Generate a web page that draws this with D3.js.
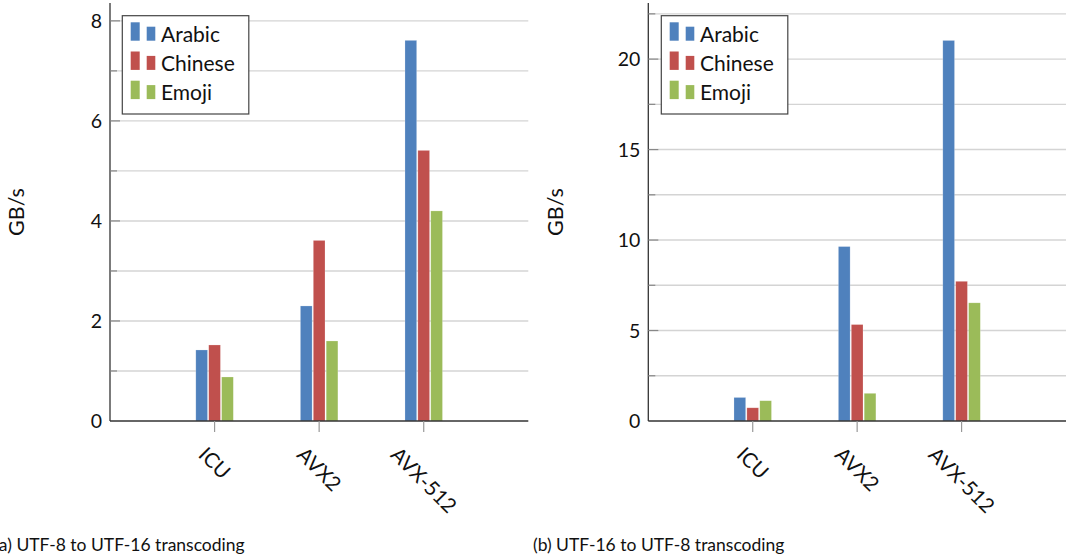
<!DOCTYPE html>
<html>
<head>
<meta charset="utf-8">
<script src="https://cdn.jsdelivr.net/npm/d3@7"></script>
<style>
  body { margin: 0; background: #fff; }
  text { font-family: Lato, "Open Sans", sans-serif; fill: #111; }
</style>
</head>
<body>
<div id="chart"></div>
<script>
// datos
const categories = ["ICU", "AVX2", "AVX-512"];
const seriesNames = ["Arabic", "Chinese", "Emoji"];
const colors = ["#4f81bd", "#c0504d", "#9bbb59"];

const utf8to16 = {
  Arabic: [1.42, 2.3, 7.61],
  Chinese: [1.52, 3.61, 5.41],
  Emoji: [0.88, 1.6, 4.2]
};
const utf16to8 = {
  Arabic: [1.3, 9.64, 21.03],
  Chinese: [0.73, 5.33, 7.72],
  Emoji: [1.12, 1.53, 6.53]
};

const ticksLeft = [0, 2, 4, 6, 8];
const minorLeft = [1, 3, 5, 7];
const ticksRight = [0, 5, 10, 15, 20];
const minorRight = [2.5, 7.5, 12.5, 17.5, 22.5];

const svg = d3.select("#chart").append("svg")
  .attr("width", 1070)
  .attr("height", 556);

const drawPanel = (cfg) => {
  const g = svg.append("g");

  const x = d3.scaleLinear().domain([0, 4]).range([cfg.x0, cfg.x1]);
  const y = d3.scaleLinear().domain([0, cfg.ymax]).range([421, 3]);

  // grid
  g.selectAll(".grid")
    .data(cfg.ticks.concat(cfg.minor).filter(v => v > 0))
    .enter().append("line")
    .attr("x1", cfg.x0).attr("x2", cfg.x1)
    .attr("y1", d => y(d)).attr("y2", d => y(d))
    .attr("stroke", "#d4d4d4").attr("stroke-width", 1.4);

  // bars
  const bw = 11.7, stride = 12.9;
  seriesNames.forEach((s, i) => {
    g.selectAll(".bar-" + i)
      .data(cfg.data[s])
      .enter().append("rect")
      .attr("x", (d, j) => x(j + 1) + (i - 1) * stride - bw / 2)
      .attr("y", d => y(d))
      .attr("width", bw)
      .attr("height", d => y(0) - y(d))
      .attr("fill", colors[i])
      .attr("stroke", "#fff").attr("stroke-opacity", 0.35).attr("stroke-width", 0.6);
  });

  // y axis
  g.append("line")
    .attr("x1", cfg.x0).attr("x2", cfg.x0)
    .attr("y1", 3).attr("y2", y(0))
    .attr("stroke", "#333").attr("stroke-width", 1.3);
  g.selectAll(".ytick")
    .data(cfg.ticks.filter(v => v > 0))
    .enter().append("line")
    .attr("x1", cfg.x0).attr("x2", cfg.x0 + 10)
    .attr("y1", d => y(d)).attr("y2", d => y(d))
    .attr("stroke", "#888").attr("stroke-width", 1.2);
  g.selectAll(".yminor")
    .data(cfg.minor)
    .enter().append("line")
    .attr("x1", cfg.x0).attr("x2", cfg.x0 + 7)
    .attr("y1", d => y(d)).attr("y2", d => y(d))
    .attr("stroke", "#888").attr("stroke-width", 1.2);
  g.selectAll(".ylabel")
    .data(cfg.ticks)
    .enter().append("text")
    .attr("x", cfg.x0 - 8)
    .attr("y", d => y(d))
    .attr("dy", "0.36em")
    .attr("text-anchor", "end")
    .attr("font-size", 19.5)
    .text(d => d);

  // x axis
  g.append("line")
    .attr("x1", cfg.x0).attr("x2", cfg.x1)
    .attr("y1", y(0)).attr("y2", y(0))
    .attr("stroke", "#333").attr("stroke-width", 1.5);
  g.selectAll(".xtick")
    .data(categories)
    .enter().append("line")
    .attr("x1", (d, j) => x(j + 1)).attr("x2", (d, j) => x(j + 1))
    .attr("y1", y(0)).attr("y2", y(0) + 11)
    .attr("stroke", "#999").attr("stroke-width", 1.2);
  g.selectAll(".xlabel")
    .data(categories)
    .enter().append("text")
    .attr("font-size", 20.5)
    .text(d => d)
    .attr("transform", function (d, j) {
      const L = this.getComputedTextLength();
      return `translate(${x(j + 1) - 0.354 * L - 5}, 456) rotate(45)`;
    });

  // eje y titulo
  g.append("text")
    .attr("transform", `translate(${cfg.labelX}, 212) rotate(-90)`)
    .attr("text-anchor", "middle")
    .attr("font-size", 21.5)
    .text("GB/s");

  // leyenda
  const lg = g.append("g").attr("transform", `translate(${cfg.legendX}, 15.7)`);
  lg.append("rect")
    .attr("width", 126.5).attr("height", 98.3)
    .attr("fill", "#fff").attr("stroke", "#444").attr("stroke-width", 1.2);
  seriesNames.forEach((s, i) => {
    const row = lg.append("g").attr("transform", `translate(0, ${i * 29.2})`);
    row.append("rect").attr("x", 8.4).attr("y", 6.6).attr("width", 9).attr("height", 18.4).attr("fill", colors[i]);
    row.append("rect").attr("x", 24.4).attr("y", 11).attr("width", 8.6).attr("height", 14).attr("fill", colors[i]);
    row.append("text").attr("x", 38.7).attr("y", 26).attr("font-size", 21).text(s);
  });

  // caption
  svg.append("text")
    .attr("x", cfg.captionX).attr("y", 551)
    .attr("font-size", 17.5)
    .text(cfg.caption);
};

drawPanel({
  data: utf8to16, x0: 110, x1: 528.3, ymax: 8.357,
  ticks: ticksLeft, minor: minorLeft, labelX: 24, legendX: 122.3,
  caption: "(a) UTF-8 to UTF-16 transcoding", captionX: -5.5
});
drawPanel({
  data: utf16to8, x0: 648.3, x1: 1066, ymax: 23.1,
  ticks: ticksRight, minor: minorRight, labelX: 563, legendX: 661.3,
  caption: "(b) UTF-16 to UTF-8 transcoding", captionX: 533
});
</script>
</body>
</html>
